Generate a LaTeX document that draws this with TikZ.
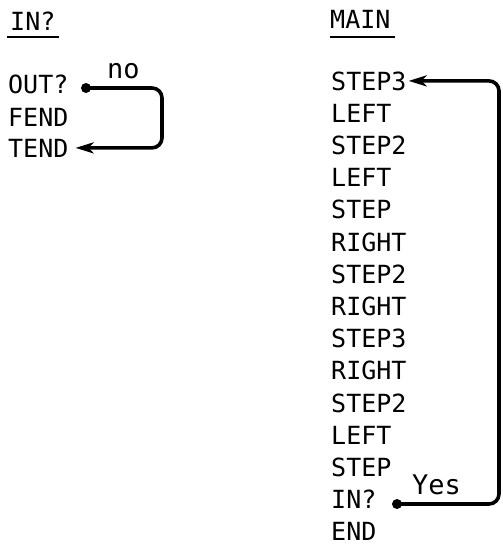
\documentclass[tikz,border=0pt]{standalone}
\usepackage{fontspec}
\newfontfamily\plotfont{DejaVu Sans Mono}
\usetikzlibrary{arrows.meta}
\begin{document}
\begin{tikzpicture}[x=1pt,y=-1pt,
  every node/.style={font=\plotfont\fontsize{25}{30}\selectfont, inner sep=0pt, anchor=base west},
  item/.style={},
  lbl/.style={font=\plotfont\fontsize{27}{30}\selectfont},
  link/.style={line width=3.6pt, rounded corners=10pt, -{Stealth[length=18pt,width=11pt,inset=5pt]}},
  uline/.style={line width=1.5pt},
  dot/.style={circle, fill=black, inner sep=0pt, minimum size=10pt, anchor=center}]
\useasboundingbox (0,0) rectangle (503,546);
% headers
\node (hin) at (10,30) {IN?};
\node (hmain) at (330,28) {MAIN};
\draw[uline] (7,37) -- (59,37);
\draw[uline] (330,37) -- (395,37);
% left column
\node[item] (out) at (8,93) {OUT?};
\node[item] (fend) at (8,126) {FEND};
\node[item] (tend) at (8,157) {TEND};
% main column
\foreach \t [count=\i] in {STEP3,LEFT,STEP2,LEFT,STEP,RIGHT,STEP2,RIGHT,STEP3,RIGHT,STEP2,LEFT,STEP,IN?,END}
  \node[item] (m\i) at (331,{90+32.2*(\i-1)}) {\t};
% no loop
\node[dot] (odot) at (86,88) {};
\node[lbl] (no) at (107,78) {no};
\draw[link] (odot.center) -- (162,88) |- ([xshift=7pt]tend.east);
% yes loop
\node[dot] (ydot) at (397,504) {};
\node[lbl] (yes) at (412,494) {Yes};
\draw[link] (ydot.center) -- (499,504) |- ([xshift=2pt]m1.east);
\end{tikzpicture}
\end{document}
